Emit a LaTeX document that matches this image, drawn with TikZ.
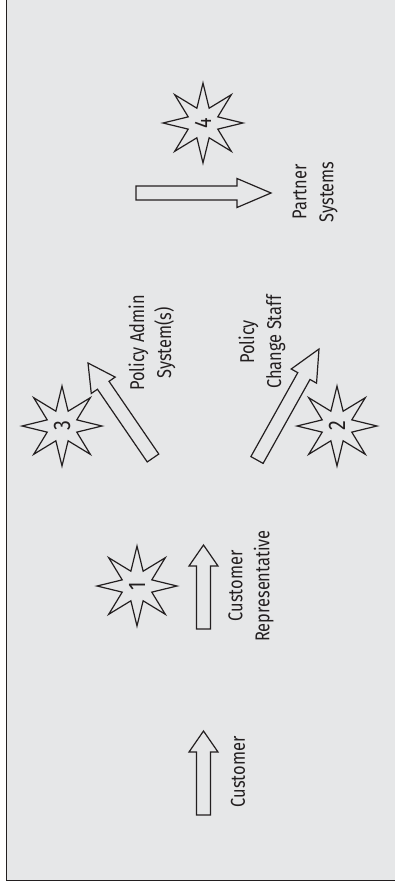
\documentclass[tikz,border=0pt]{standalone}
\usepackage{fontspec}
\setmainfont{Fira Sans}[FakeStretch=0.82]
\usetikzlibrary{calc,shapes.geometric}
\definecolor{bg}{HTML}{E6E7E8}
\definecolor{ink}{HTML}{231F20}
\tikzset{
  blockline/.style={draw=ink, line width=1.2pt, fill=bg, line join=miter},
  starshape/.style={star, star points=8, star point ratio=2.5, draw=ink, line width=1.2pt,
    minimum size=80pt, inner sep=0pt, rotate=90, text=ink, font=\fontsize{24}{26}\selectfont},
  label/.style={align=center, rotate=90, text=ink, inner sep=0pt, font=\fontsize{20}{27}\selectfont}
}
% tail, tip, head length
\newcommand\blockarr[3]{%
  \coordinate (hb) at ($(#2)!#3pt!(#1)$);
  \draw[blockline] ($(#1)!7pt!90:(#2)$) -- ($(hb)!7pt!90:(#2)$) -- ($(hb)!14.5pt!90:(#2)$)
    -- (#2) -- ($(hb)!14.5pt!-90:(#2)$) -- ($(hb)!7pt!-90:(#2)$) -- ($(#1)!7pt!-90:(#2)$) -- cycle;
}
\begin{document}
\begin{tikzpicture}[x=1pt,y=-1pt]
\useasboundingbox (0,0) rectangle (395,886);
\fill[white] (0,0) rectangle (395,886);
\fill[bg] (6.5,0) rectangle (395,880.5);
\draw[ink, line width=1.8pt] (6.5,0) -- (6.5,880.5) -- (395,880.5);

% arrow end points
\coordinate (a1t) at (203.5,815); \coordinate (a1p) at (203.5,731);
\coordinate (a2t) at (203.5,629); \coordinate (a2p) at (203.5,545);
\coordinate (a3t) at (153,458);   \coordinate (a3p) at (88,363);
\coordinate (a4t) at (257,460);   \coordinate (a4p) at (319,349);
\coordinate (a5t) at (136,193);   \coordinate (a5p) at (271,193);

\blockarr{a1t}{a1p}{21}
\blockarr{a2t}{a2p}{21}
\blockarr{a3t}{a3p}{27}
\blockarr{a4t}{a4p}{31}
\blockarr{a5t}{a5p}{34}

% stars
\node[starshape] (s1) at (137,586) {1};
\node[starshape] (s2) at (337,426) {2};
\node[starshape] (s3) at (62,426) {3};
\node[starshape] (s4) at (203,123) {4};

% labels
\node[label] (customer) at (238,772) {Customer};
\node[label] (rep) at (251,586) {Customer\\Representative};
\node[label] (pas) at (152,343) {Policy Admin\\System(s)};
\node[label] (pcs) at (262,342) {Policy\\Change Staff};
\node[label] (partner) at (315,192) {Partner\\Systems};
\end{tikzpicture}
\end{document}
